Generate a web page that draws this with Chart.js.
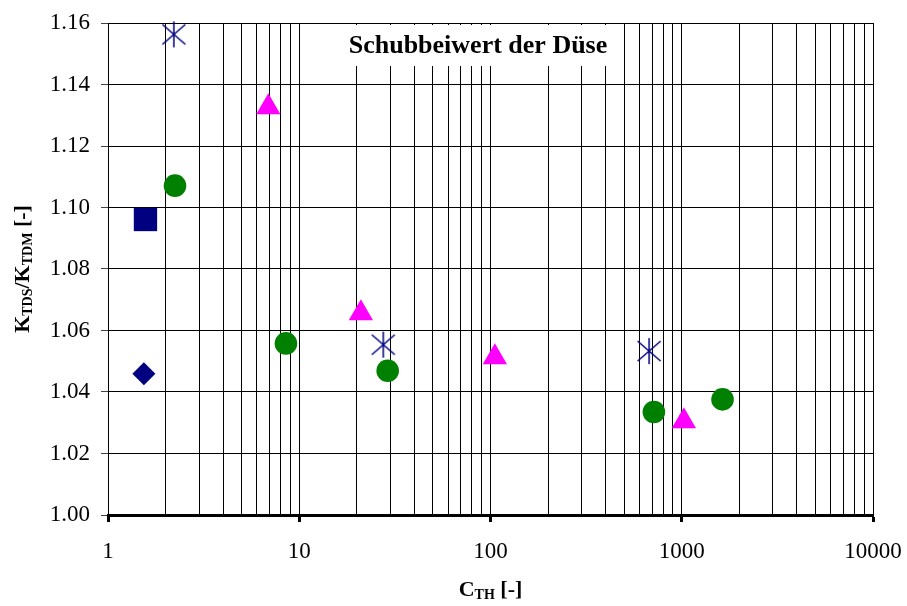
<!DOCTYPE html>
<html>
<head>
<meta charset="utf-8">
<script src="https://cdn.jsdelivr.net/npm/chart.js@4.4.1/dist/chart.umd.min.js"></script>
<style>
  html, body { margin: 0; padding: 0; background: #fff; }
  #wrap { width: 907px; height: 606px; position: relative; }
</style>
</head>
<body>
<div id="wrap"><canvas id="chart" width="907" height="606"></canvas></div>
<script>
// Thrust coefficient ratio of the nozzle against thrust loading coefficient
const chartTitle = 'Schubbeiwert der Düse';

const squareX = [1.57];
const squareY = [1.0961];

const diamondX = [1.54];
const diamondY = [1.0459];

const asteriskX = [2.21, 27.5, 675];
const asteriskY = [1.1563, 1.0554, 1.0533];

const circleX = [2.24, 8.52, 29.0, 715, 1634];
const circleY = [1.1071, 1.0558, 1.0469, 1.0335, 1.0376];

const triangleX = [6.89, 21.0, 105.4, 1026];
const triangleY = [1.1326, 1.0656, 1.0513, 1.0305];

const xDecades = [1, 10, 100, 1000, 10000];
const xTickLabels = ['1', '10', '100', '1000', '10000'];
const yTickLabels = ['1.00', '1.02', '1.04', '1.06', '1.08', '1.10', '1.12', '1.14', '1.16'];

const SERIF = "'Liberation Serif', 'Times New Roman', serif";
const NAVY = '#000080';
const GREEN = '#008000';
const MAGENTA = '#FF00FF';

function pairs(xs, ys) {
  return xs.map((x, i) => ({ x: x, y: ys[i] }));
}

// Asterisk marker: an X crossed by a vertical stroke
function makeAsterisk() {
  const c = document.createElement('canvas');
  c.width = 26; c.height = 28;
  const g = c.getContext('2d');
  g.strokeStyle = NAVY;
  g.lineWidth = 1.5;
  g.beginPath();
  g.moveTo(1.5, 4); g.lineTo(24.5, 24);
  g.moveTo(24.5, 4); g.lineTo(1.5, 24);
  g.moveTo(13, 1); g.lineTo(13, 27);
  g.stroke();
  return c;
}

// Grid positions: 1..9 within every decade
const logGridValues = [];
for (let d = 0; d < xDecades.length - 1; d++) {
  for (let m = 1; m < 10; m++) logGridValues.push(m * xDecades[d]);
}
logGridValues.push(xDecades[xDecades.length - 1]);

const isDecade = v => xDecades.some(d => Math.abs(d - v) < 1e-9 * d);

const titleBoxPlugin = {
  id: 'titleBox',
  beforeDatasetsDraw(chart) {
    const ctx = chart.ctx;
    ctx.save();
    ctx.fillStyle = '#fff';
    ctx.fillRect(340, 25, 276, 41);
    ctx.fillStyle = '#000';
    ctx.font = 'bold 26px ' + SERIF;
    ctx.textAlign = 'center';
    ctx.textBaseline = 'middle';
    ctx.fillText(chartTitle, 478, 46);
    ctx.restore();
  }
};

// Axis titles with subscripts
function drawSubText(ctx, parts, x, y) {
  let total = 0;
  const widths = parts.map(p => {
    ctx.font = (p[1] ? 'bold 14px ' : 'bold 22px ') + SERIF;
    const w = ctx.measureText(p[0]).width;
    total += w;
    return w;
  });
  let cx = x - total / 2;
  parts.forEach((p, i) => {
    ctx.font = (p[1] ? 'bold 14px ' : 'bold 22px ') + SERIF;
    ctx.fillText(p[0], cx, p[1] ? y + 5 : y);
    cx += widths[i];
  });
}

const axisTitlePlugin = {
  id: 'axisTitles',
  afterDraw(chart) {
    const ctx = chart.ctx;
    const a = chart.chartArea;
    ctx.save();
    ctx.fillStyle = '#000';
    ctx.textAlign = 'left';
    ctx.textBaseline = 'middle';
    drawSubText(ctx, [['C', false], ['TH', true], [' [-]', false]], (a.left + a.right) / 2, 590);
    ctx.translate(23, (a.top + a.bottom) / 2);
    ctx.rotate(-Math.PI / 2);
    drawSubText(ctx, [['K', false], ['TDS', true], ['/K', false], ['TDM', true], [' [-]', false]], 0, 0);
    ctx.restore();
  }
};

const common = { showLine: false, clip: false, borderWidth: 0 };

new Chart(document.getElementById('chart'), {
  type: 'scatter',
  data: {
    datasets: [
      Object.assign({ data: pairs(squareX, squareY), pointStyle: 'rect', pointRadius: 16.5,
        backgroundColor: NAVY, borderColor: NAVY }, common),
      Object.assign({ data: pairs(diamondX, diamondY), pointStyle: 'rectRot', pointRadius: 11.5,
        backgroundColor: NAVY, borderColor: NAVY }, common),
      Object.assign({ data: pairs(asteriskX, asteriskY), pointStyle: makeAsterisk(), pointRadius: 13,
        backgroundColor: NAVY, borderColor: NAVY }, common),
      Object.assign({ data: pairs(circleX, circleY), pointStyle: 'circle', pointRadius: 11.3,
        backgroundColor: GREEN, borderColor: GREEN }, common),
      Object.assign({ data: pairs(triangleX, triangleY), pointStyle: 'triangle', pointRadius: 14,
        backgroundColor: MAGENTA, borderColor: MAGENTA }, common)
    ]
  },
  options: {
    responsive: false,
    animation: false,
    layout: { padding: { top: 23, right: 34, left: 0, bottom: 0 } },
    plugins: { legend: { display: false }, tooltip: { enabled: false } },
    elements: { point: { hoverRadius: 0 } },
    scales: {
      x: {
        type: 'logarithmic',
        min: 1,
        max: 10000,
        afterBuildTicks(scale) {
          scale.ticks = logGridValues.map(v => ({ value: v, major: isDecade(v) }));
        },
        afterFit(scale) {
          scale.height = 91;
          scale.paddingLeft = 0;
          scale.paddingRight = 0;
        },
        border: { display: true, color: '#000', width: 3 },
        grid: {
          color: '#000',
          lineWidth: 1,
          tickLength: 7,
          tickColor: ctx => (ctx.tick && isDecade(ctx.tick.value)) ? '#000' : 'rgba(0,0,0,0)',
          tickWidth: 3
        },
        ticks: {
          autoSkip: false,
          maxRotation: 0,
          padding: 16,
          color: '#000',
          font: { family: SERIF, size: 23 },
          callback: v => {
            const i = xDecades.findIndex(d => Math.abs(d - v) < 1e-9 * d);
            return i >= 0 ? xTickLabels[i] : '';
          }
        }
      },
      y: {
        type: 'linear',
        min: 1.0,
        max: 1.16,
        afterFit(scale) {
          scale.width = 108;
          scale.paddingTop = 0;
          scale.paddingBottom = 0;
        },
        border: { display: true, color: '#000', width: 1 },
        grid: { color: '#000', lineWidth: 1, tickLength: 7, tickColor: '#444', tickWidth: 1 },
        ticks: {
          stepSize: 0.02,
          padding: 11,
          color: '#000',
          font: { family: SERIF, size: 23 },
          callback: (v, i) => yTickLabels[i] !== undefined ? yTickLabels[i] : v.toFixed(2)
        }
      }
    }
  },
  plugins: [titleBoxPlugin, axisTitlePlugin]
});
</script>
</body>
</html>
